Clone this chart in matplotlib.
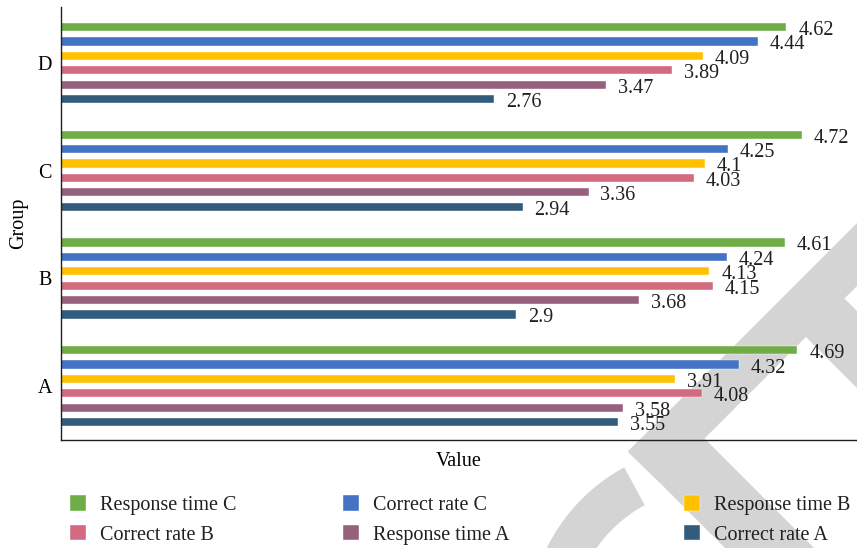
import numpy as np
import matplotlib.pyplot as plt
from matplotlib.patches import Polygon, Wedge
from matplotlib.transforms import Affine2D

groups = ["A", "B", "C", "D"]
series = ["Response time C", "Correct rate C", "Response time B",
          "Correct rate B", "Response time A", "Correct rate A"]

response_time_c = [4.69, 4.61, 4.72, 4.62]
correct_rate_c = [4.32, 4.24, 4.25, 4.44]
response_time_b = [3.91, 4.13, 4.1, 4.09]
correct_rate_b = [4.08, 4.15, 4.03, 3.89]
response_time_a = [3.58, 3.68, 3.36, 3.47]
correct_rate_a = [3.55, 2.9, 2.94, 2.76]

values = [response_time_c, correct_rate_c, response_time_b,
          correct_rate_b, response_time_a, correct_rate_a]
colors = ["#70ad47", "#4472c4", "#ffc000", "#d26b80", "#97617e", "#335b7c"]

plt.rcParams["font.family"] = ["Liberation Serif", "DejaVu Serif"]
plt.rcParams["font.size"] = 14.5
plt.rcParams["text.color"] = "#231f20"

W, H = 857, 548
fig = plt.figure(figsize=(W / 100, H / 100), dpi=100)
ax = fig.add_axes([61 / W, 108 / H, 796 / W, 433 / H])
ax.patch.set_visible(False)

# light grey logo behind everything, in pixel coords measured from the top
px = Affine2D().scale(1, -1).translate(0, H).scale(1 / W, 1 / H) + fig.transFigure
grey = "#d4d4d4"
shapes = [
    Polygon([(628, 452), (900, 180), (900, 243), (660, 483)]),
    Polygon([(628, 451), (673, 407), (900, 634), (900, 723)]),
    Polygon([(775, 306), (845, 299), (950, 404), (950, 481)]),
]
for s in shapes:
    s.set(transform=px, facecolor=grey, edgecolor="none", zorder=-1)
    fig.patches.append(s)
arc = Wedge((712, -81), 184, 118.5, 230, width=43,
            transform=Affine2D().scale(1 / W, 1 / H) + fig.transFigure,
            facecolor=grey, edgecolor="none", zorder=-1)
fig.patches.append(arc)

y = np.arange(len(groups))
slot = 0.1336
bar_h = 0.076
bars = []
for i, (name, vals, c) in enumerate(zip(series, values, colors)):
    pos = y + (2.5 - i) * slot
    b = ax.barh(pos, vals, height=bar_h, color=c, label=name,
                edgecolor="white", linewidth=0.3)
    bars.append(b)
    for p, v in zip(pos, vals):
        ax.annotate(f"{v:g}", (v, p), xytext=(8.5, -2.5),
                    textcoords="offset points", va="center", ha="left")

ax.set_xlim(0, 5.07)
ax.set_ylim(-0.5, 3.52)
ax.set_xticks([])
ax.set_yticks(y, groups)
ax.tick_params(axis="y", length=0, pad=6.5)
for side in ["top", "right"]:
    ax.spines[side].set_visible(False)
for side in ["left", "bottom"]:
    ax.spines[side].set_linewidth(1.0)
    ax.spines[side].set_color("#231f20")
ax.set_xlabel("Value", labelpad=9)
ax.set_ylabel("Group", labelpad=6.5)

fs = 14.5 * 100 / 72
cols = [(70, [0, 3]), (343, [1, 4]), (684, [2, 5])]
for x0, idx in cols:
    leg = fig.legend([bars[k] for k in idx], [series[k] for k in idx],
                     loc="center left", bbox_to_anchor=(x0 / W, 28 / H),
                     frameon=False, borderpad=0, borderaxespad=0,
                     handlelength=16 / fs, handleheight=16 / fs,
                     handletextpad=14 / fs, labelspacing=0.5)

fig.savefig("out.png", dpi=100)
